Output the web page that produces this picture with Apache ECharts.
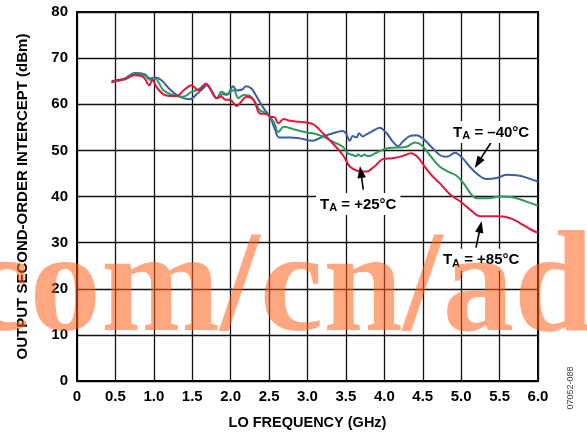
<!DOCTYPE html>
<html>
<head>
<meta charset="utf-8">
<script src="https://cdn.jsdelivr.net/npm/echarts@6.0.0/dist/echarts.min.js"></script>
<style>
  html, body { margin: 0; padding: 0; background: #fff; }
  #chart { width: 587px; height: 435px; }
</style>
</head>
<body>
<div id="chart"></div>
<script>
// LO frequency (GHz) and output second-order intercept (dBm) per ambient temperature
const loMinus40 = [0.45,0.62,0.75,0.88,0.95,1.02,1.10,1.21,1.34,1.47,1.56,1.65,1.69,1.75,1.82,1.90,1.95,2.03,2.08,2.15,2.20,2.27,2.34,2.43,2.51,2.58,2.63,2.77,2.90,3.07,3.20,3.33,3.46,3.50,3.55,3.59,3.64,3.67,3.72,3.77,3.83,3.94,4.03,4.11,4.18,4.24,4.33,4.42,4.50,4.61,4.72,4.81,4.92,5.03,5.11,5.20,5.33,5.46,5.59,5.72,5.85,6.00];
const oip2Minus40 = [65.0,65.6,66.8,66.5,65.6,65.8,65.2,63.2,61.6,61.1,62.2,63.6,64.1,63.0,61.3,62.2,62.0,63.9,63.0,63.2,63.9,63.4,61.6,59.1,57.3,54.4,52.8,52.8,52.6,52.1,53.0,53.7,54.2,53.7,52.1,53.1,52.8,53.7,53.0,53.5,54.0,54.9,53.7,51.9,50.9,51.9,53.1,53.3,52.6,50.8,49.0,48.6,49.5,48.1,46.5,45.0,43.8,44.0,44.7,44.6,44.1,43.2];

const loPlus25 = [0.45,0.62,0.75,0.88,0.95,1.02,1.12,1.25,1.38,1.49,1.58,1.68,1.82,1.88,1.95,2.04,2.10,2.17,2.27,2.38,2.47,2.56,2.62,2.69,2.82,3.01,3.07,3.20,3.33,3.46,3.52,3.59,3.63,3.66,3.70,3.74,3.78,3.83,3.92,4.03,4.16,4.29,4.40,4.48,4.59,4.72,4.83,4.94,5.03,5.12,5.20,5.33,5.51,5.68,5.85,6.00];
const oip2Plus25 = [64.8,65.4,66.5,66.2,65.3,65.5,63.1,62.0,61.6,62.7,63.2,64.4,61.3,62.7,62.2,63.1,61.3,62.0,61.6,58.7,58.0,56.2,54.0,55.1,54.6,53.8,53.7,53.0,51.9,50.8,49.4,49.0,48.7,49.1,48.7,49.1,48.8,48.9,49.7,50.4,50.6,50.8,51.7,51.2,49.0,46.5,45.4,44.5,42.9,40.7,39.6,39.6,40.0,39.8,38.9,38.0];

const loPlus85 = [0.45,0.51,0.62,0.75,0.84,0.88,0.94,0.98,1.04,1.12,1.21,1.30,1.40,1.49,1.58,1.68,1.73,1.82,1.88,1.93,1.99,2.08,2.12,2.21,2.30,2.38,2.47,2.51,2.57,2.62,2.69,2.77,2.90,3.07,3.20,3.33,3.46,3.55,3.65,3.77,3.87,3.98,4.11,4.24,4.35,4.43,4.52,4.62,4.72,4.86,4.99,5.12,5.25,5.50,5.64,5.77,5.90,6.00];
const oip2Plus85 = [64.7,65.2,65.4,66.3,66.1,65.6,64.1,65.2,63.6,62.2,61.8,61.8,63.2,64.1,63.0,64.5,63.4,61.3,61.6,61.0,61.0,59.6,60.2,61.6,60.9,58.0,57.9,57.3,57.2,55.9,56.8,56.4,56.2,55.7,53.7,51.5,49.0,46.5,45.6,45.4,46.5,48.1,48.3,48.8,49.4,48.6,46.6,44.5,42.9,40.4,38.9,37.1,35.7,35.7,35.3,34.2,32.9,32.1];

const temperatureLabels = ['–40°C', '+25°C', '+85°C'];

const FONT = '"Liberation Sans", Arial, Helvetica, sans-serif';
const zip = (xs, ys) => xs.map((x, i) => [x, ys[i]]);

const chart = echarts.init(document.getElementById('chart'), null, { renderer: 'canvas' });

const lineSeries = (data, color) => ({
  type: 'line',
  data: data,
  showSymbol: false,
  smooth: 0.35,
  lineStyle: { color: color, width: 2 },
  itemStyle: { color: color },
  animation: false,
  z: 3
});

chart.setOption({
  animation: false,
  backgroundColor: '#fff',
  grid: {
    left: 77, right: 49, top: 12, bottom: 53,
    show: true, borderColor: '#000', borderWidth: 2, backgroundColor: 'transparent'
  },
  xAxis: {
    type: 'value', min: 0, max: 6, interval: 0.5,
    name: 'LO FREQUENCY (GHz)', nameLocation: 'middle', nameGap: 34,
    nameTextStyle: { fontFamily: FONT, fontWeight: 'bold', fontSize: 14.5, color: '#000' },
    axisLine: { show: true, lineStyle: { color: '#000', width: 2 } },
    axisTick: { show: false },
    axisLabel: {
      margin: 8, fontFamily: FONT, fontWeight: 'bold', fontSize: 15, color: '#000',
      formatter: v => (v === 0 ? '0' : v.toFixed(1))
    },
    splitLine: { show: true, lineStyle: { color: '#111', width: 1.3 } }
  },
  yAxis: {
    type: 'value', min: 0, max: 80, interval: 10,
    name: 'OUTPUT SECOND-ORDER INTERCEPT (dBm)', nameLocation: 'middle', nameGap: 47, nameRotate: 90,
    nameTextStyle: { fontFamily: FONT, fontWeight: 'bold', fontSize: 15, color: '#000' },
    axisLine: { show: true, lineStyle: { color: '#000', width: 2 } },
    axisTick: { show: false },
    axisLabel: { margin: 9, fontFamily: FONT, fontWeight: 'bold', fontSize: 15, color: '#000' },
    splitLine: { show: true, lineStyle: { color: '#111', width: 1.3 } }
  },
  series: [
    lineSeries(zip(loMinus40, oip2Minus40), '#3b5ea6'),
    lineSeries(zip(loPlus25, oip2Plus25), '#2e9a5c'),
    lineSeries(zip(loPlus85, oip2Plus85), '#e2163d')
  ]
});

// Callouts: label centre, arrow tail and arrow tip, all in (GHz, dBm)
const callouts = [
  { label: [5.39, 54.0], tail: [5.385, 51.6], tip: [5.176, 46.2] },
  { label: [3.66, 38.4], tail: [3.726, 41.5], tip: [3.683, 46.6] },
  { label: [5.26, 26.3], tail: [5.193, 28.9], tip: [5.267, 34.7] }
];

const toPx = p => chart.convertToPixel({ gridIndex: 0 }, p);
const graphics = [];

callouts.forEach((c, i) => {
  const L = toPx(c.label), T = toPx(c.tail), H = toPx(c.tip);
  const dx = H[0] - T[0], dy = H[1] - T[1];
  const len = Math.hypot(dx, dy);
  const ux = dx / len, uy = dy / len;
  const headLen = 12, headHalf = 4.2;
  const bx = H[0] - ux * headLen, by = H[1] - uy * headLen;
  graphics.push({
    type: 'line', z: 50,
    shape: { x1: T[0], y1: T[1], x2: bx + ux, y2: by + uy },
    style: { stroke: '#000', lineWidth: 1.6 }
  });
  graphics.push({
    type: 'polygon', z: 50,
    shape: { points: [[H[0], H[1]], [bx - uy * headHalf, by + ux * headHalf], [bx + uy * headHalf, by - ux * headHalf]] },
    style: { fill: '#000' }
  });
  graphics.push({
    type: 'text', z: 51, x: L[0], y: L[1],
    style: {
      text: '{t|T}{s|A}{t| = ' + temperatureLabels[i] + '}',
      align: 'center', verticalAlign: 'middle',
      backgroundColor: '#fff', padding: [2, 4, 1, 4],
      rich: {
        t: { fontFamily: FONT, fontWeight: 'bold', fontSize: 15, fill: '#000', lineHeight: 19 },
        s: { fontFamily: FONT, fontWeight: 'bold', fontSize: 11, fill: '#000', lineHeight: 11, verticalAlign: 'bottom' }
      }
    }
  });
});

// Site address overprint across the lower half of the plot
graphics.push({
  type: 'text', z: 100, x: -34, y: 293,
  style: {
    text: 'com/cn/ad',
    fontFamily: '"Liberation Serif", "Times New Roman", serif',
    fontWeight: 'bold', fontSize: 143, lineHeight: 143,
    fill: 'rgba(255, 95, 25, 0.55)',
    align: 'left', verticalAlign: 'middle'
  }
});

// Figure number along the right edge
graphics.push({
  type: 'text', z: 10, x: 571, y: 388, rotation: Math.PI / 2,
  style: {
    text: '07052-088', fontFamily: FONT, fontSize: 9, fill: '#444',
    align: 'center', verticalAlign: 'middle'
  }
});

chart.setOption({ graphic: graphics });
</script>
</body>
</html>
